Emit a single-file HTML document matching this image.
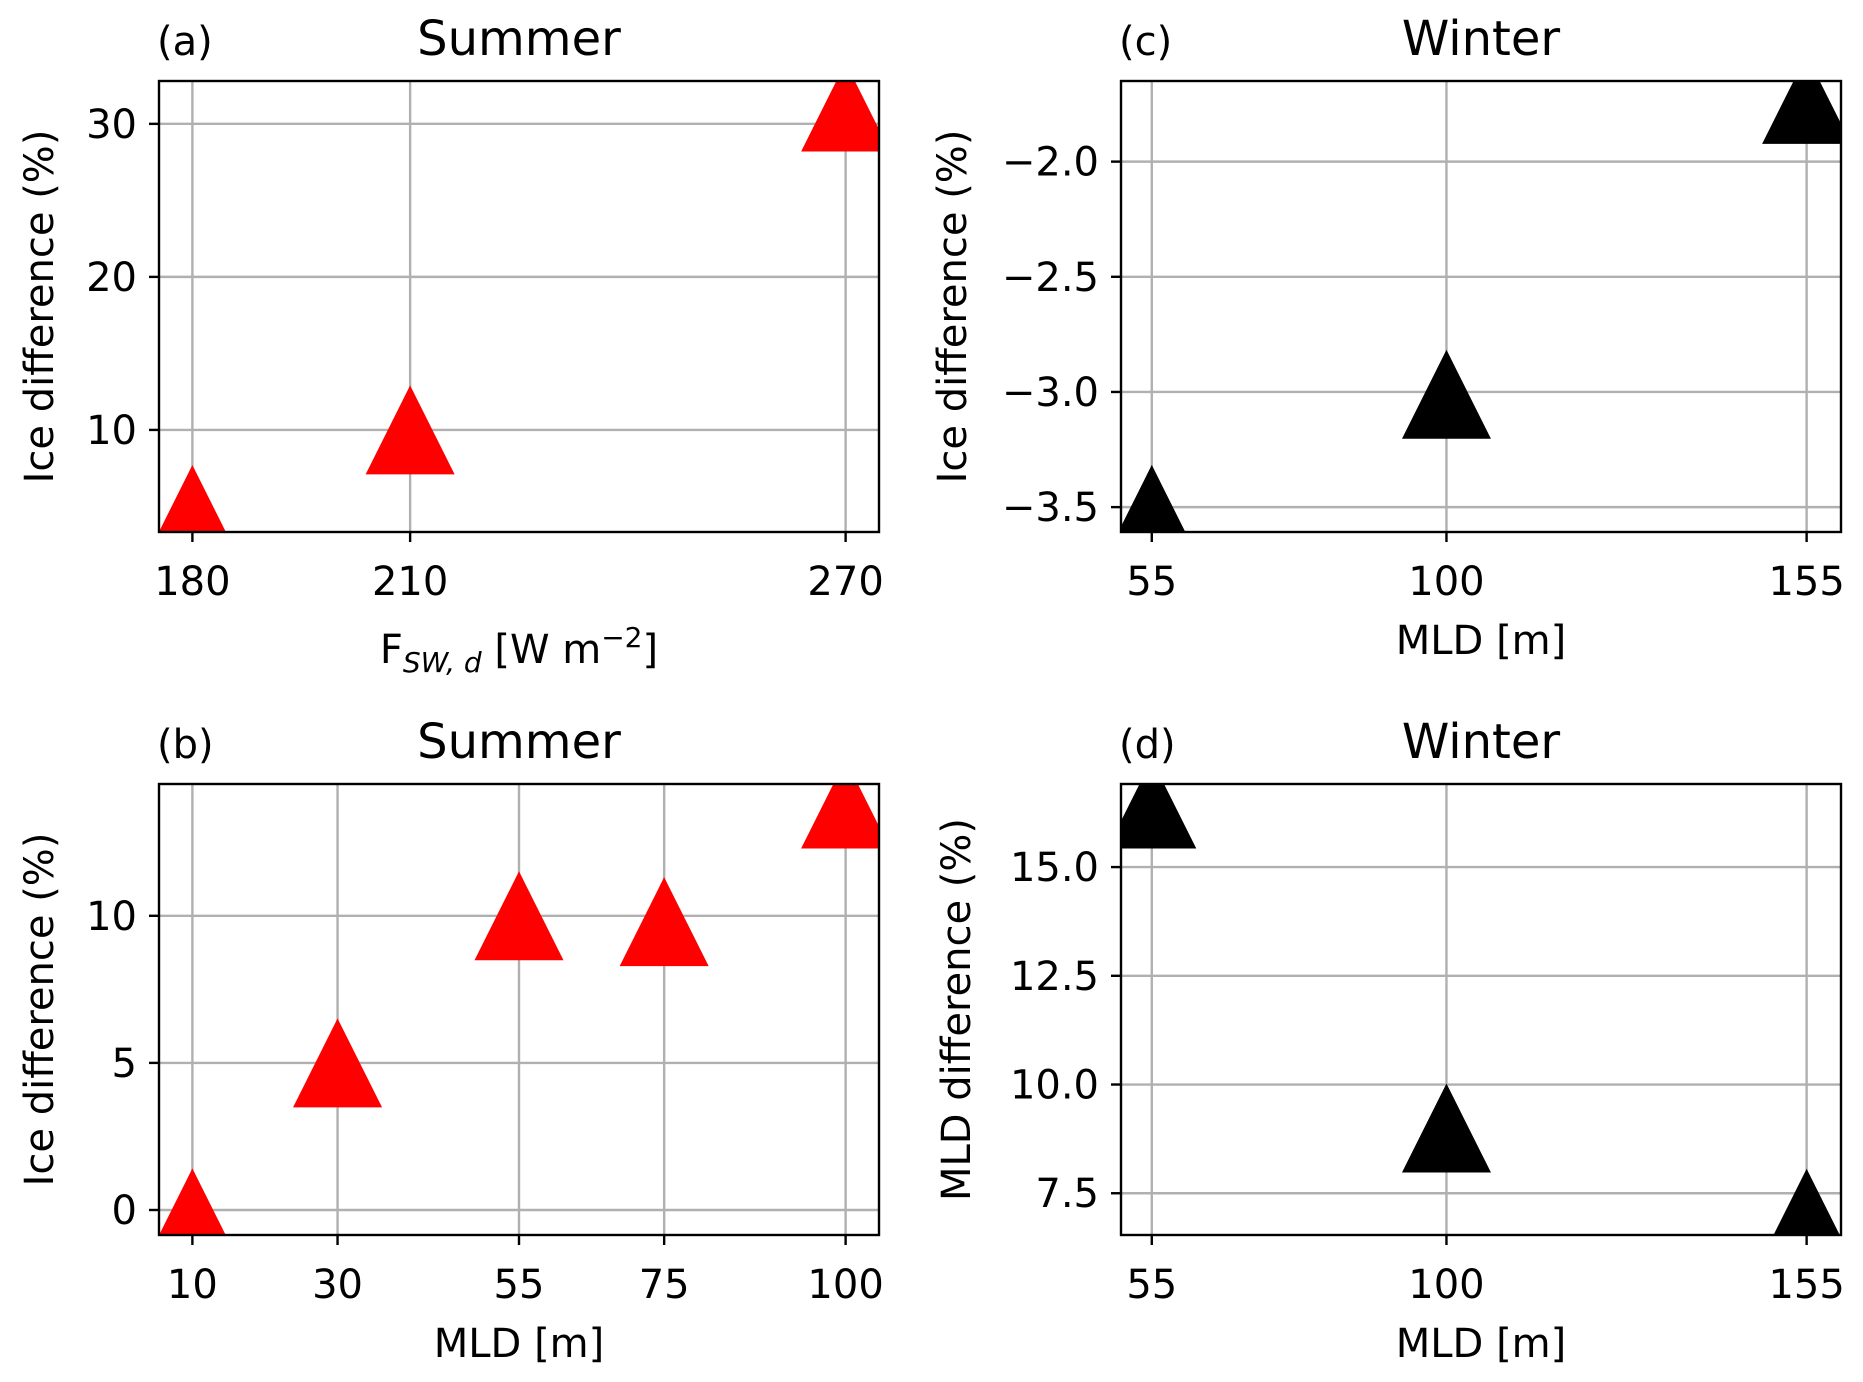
<!DOCTYPE html>
<html><head><meta charset="utf-8">
<style>
html,body{margin:0;padding:0;background:#fff;}
svg{display:block;font-family:"DejaVu Sans","Liberation Sans",sans-serif;}
</style></head>
<body>
<svg id="fig" width="1863" height="1382" viewBox="0 0 1863 1382"></svg>
<script>
// Panel (a) data
const aX = [180, 210, 270];
const aY = [4.8, 10, 31.1];
const aXTicks = [180, 210, 270];
const aYTicks = [10, 20, 30];
// Panel (b) data
const bX = [10, 30, 55, 75, 100];
const bY = [-0.1, 5, 10, 9.8, 13.8];
const bXTicks = [10, 30, 55, 75, 100];
const bYTicks = [0, 5, 10];
// Panel (c) data
const cX = [55, 100, 155];
const cY = [-3.51, -3.01, -1.73];
const cXTicks = [55, 100, 155];
const cYTicks = [-3.5, -3.0, -2.5, -2.0];
const cYLabels = ["\u22123.5", "\u22123.0", "\u22122.5", "\u22122.0"];
// Panel (d) data
const dX = [55, 100, 155];
const dY = [16.45, 9.0, 7.04];
const dXTicks = [55, 100, 155];
const dYTicks = [7.5, 10.0, 12.5, 15.0];
const dYLabels = ["7.5", "10.0", "12.5", "15.0"];

const NS = "http://www.w3.org/2000/svg";
const fig = document.getElementById('fig');
function mk(tag, attrs, parent, text){
  const e = document.createElementNS(NS, tag);
  for (const k in attrs) e.setAttribute(k, attrs[k]);
  if (text !== undefined) e.textContent = text;
  (parent || fig).appendChild(e);
  return e;
}

function panel(o){
  const g = mk('g', {});
  
  
  const L = o.L, R = o.R, T = o.T, B = o.B;
  const sx = v => L + (v - o.xmin) / (o.xmax - o.xmin) * (R - L);
  const sy = v => B - (v - o.ymin) / (o.ymax - o.ymin) * (B - T);
  const clipId = 'clip-' + o.id;
  const cp = mk('clipPath', {id: clipId}, g);
  mk('rect', {x: L, y: T, width: R - L, height: B - T}, cp);
  o.xt.forEach(v => {
    const l = mk('line', {x1: sx(v), x2: sx(v), y1: T, y2: B, stroke: '#b0b0b0', 'stroke-width': 2.4}, g);
    
    
  });
  o.yt.forEach(v => {
    const l = mk('line', {x1: L, x2: R, y1: sy(v), y2: sy(v), stroke: '#b0b0b0', 'stroke-width': 2.4}, g);
    
    
  });
  const mg = mk('g', {'clip-path': 'url(#' + clipId + ')'}, g);
  const h = 44.5;
  o.xs.forEach((xv, i) => {
    const cx = sx(xv), cy = sy(o.ys[i]);
    const p = mk('polygon', {points: `${cx},${cy - h} ${cx - h},${cy + h} ${cx + h},${cy + h}`, fill: o.color}, mg);
    
    
  });
  const fr = mk('rect', {x: L, y: T, width: R - L, height: B - T, fill: 'none', stroke: '#000', 'stroke-width': 2.4}, g);
  
  
  o.xt.forEach(v => {
    mk('line', {x1: sx(v), x2: sx(v), y1: B, y2: B + 10, stroke: '#000', 'stroke-width': 2.4}, g);
    const t = mk('text', {x: sx(v), y: B + 63, 'text-anchor': 'middle', 'font-size': 40}, g, String(v));
    
    
  });
  o.yt.forEach((v, i) => {
    mk('line', {x1: L - 10, x2: L, y1: sy(v), y2: sy(v), stroke: '#000', 'stroke-width': 2.4}, g);
    const t = mk('text', {x: L - 22, y: sy(v) + 14, 'text-anchor': 'end', 'font-size': 40}, g, o.yl ? o.yl[i] : String(v));
    
    
  });
  const ttl = mk('text', {x: (L + R) / 2, y: T - 26, 'text-anchor': 'middle', 'font-size': 48}, g, o.title);
  
  
  const let_ = mk('text', {x: L - 2, y: T - 26, 'font-size': 40}, g, o.letter);
  
  
  const yl = mk('text', {x: 0, y: 0, 'text-anchor': 'middle', 'font-size': 40, transform: `translate(${o.ylx},${(T + B) / 2}) rotate(-90)`}, g, o.ylabel);
  
  
  let xl;
  if (o.xlabelHTML) {
    xl = mk('text', {x: (L + R) / 2, y: B + 131, 'text-anchor': 'middle', 'font-size': 40}, g);
    mk('tspan', {}, xl, 'F');
    mk('tspan', {'font-size': 28, 'font-style': 'italic', dy: 9}, xl, 'SW, d');
    mk('tspan', {dy: -9}, xl, ' [W m');
    mk('tspan', {'font-size': 28, dy: -16}, xl, '\u22122');
    mk('tspan', {dy: 16}, xl, ']');
  } else {
    xl = mk('text', {x: (L + R) / 2, y: B + 122, 'text-anchor': 'middle', 'font-size': 40}, g, o.xlabel);
  }
  
  
}

panel({id: 'a', L: 159, R: 879, T: 81, B: 532, xmin: 175.4, xmax: 274.6, ymin: 3.33, ymax: 32.8,
  xs: aX, ys: aY, xt: aXTicks, yt: aYTicks, color: '#ff0000', title: 'Summer', letter: '(a)',
  ylabel: 'Ice difference (%)', ylx: 53, xlabelHTML: true});
panel({id: 'b', L: 159, R: 879, T: 784, B: 1235, xmin: 5.4, xmax: 104.6, ymin: -0.85, ymax: 14.48,
  xs: bX, ys: bY, xt: bXTicks, yt: bYTicks, color: '#ff0000', title: 'Summer', letter: '(b)',
  ylabel: 'Ice difference (%)', ylx: 53, xlabel: 'MLD [m]'});
panel({id: 'c', L: 1121, R: 1841, T: 81, B: 532, xmin: 50.3, xmax: 160.25, ymin: -3.608, ymax: -1.65,
  xs: cX, ys: cY, xt: cXTicks, yt: cYTicks, yl: cYLabels, color: '#000000', title: 'Winter', letter: '(c)',
  ylabel: 'Ice difference (%)', ylx: 966, xlabel: 'MLD [m]'});
panel({id: 'd', L: 1121, R: 1841, T: 784, B: 1235, xmin: 50.3, xmax: 160.25, ymin: 6.54, ymax: 16.91,
  xs: dX, ys: dY, xt: dXTicks, yt: dYTicks, yl: dYLabels, color: '#000000', title: 'Winter', letter: '(d)',
  ylabel: 'MLD difference (%)', ylx: 970, xlabel: 'MLD [m]'});
</script>
</body></html>
